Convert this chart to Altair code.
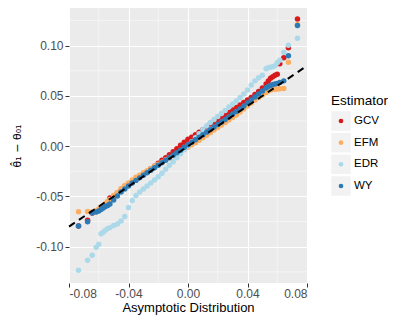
import altair as alt
import pandas as pd

# ---- data (QQ plot: asymptotic quantiles vs estimates) ----
estimators = ["GCV", "EFM", "EDR", "WY"]
colors = ["#D7191C", "#FDAE61", "#ABD9E9", "#2C7BB6"]
legend_title = ["Estimator"]

quantiles = [-0.0736, -0.0675, -0.0644, -0.0617, -0.0600, -0.0585, -0.0570, -0.0555, -0.0540, -0.0525,
             -0.0500, -0.0475, -0.0450, -0.0425, -0.0400, -0.0375, -0.0350, -0.0325, -0.0300, -0.0275,
             -0.0250, -0.0225, -0.0200, -0.0175, -0.0150, -0.0125, -0.0100, -0.0075, -0.0050, -0.0025,
             0.0000, 0.0025, 0.0050, 0.0075, 0.0100, 0.0125, 0.0150, 0.0175, 0.0200, 0.0225,
             0.0250, 0.0275, 0.0300, 0.0325, 0.0350, 0.0375, 0.0400, 0.0425, 0.0450, 0.0475,
             0.0500, 0.0525, 0.0540, 0.0555, 0.0570, 0.0585, 0.0600, 0.0617, 0.0644, 0.0675, 0.0736]

gcv = [-0.0795, -0.0736, -0.0665, -0.0650, -0.0635, -0.0620, -0.0605, -0.0590, -0.0555, -0.0515,
       -0.0500, -0.0465, -0.0440, -0.0410, -0.0380, -0.0355, -0.0330, -0.0305, -0.0280, -0.0255,
       -0.0225, -0.0200, -0.0170, -0.0140, -0.0115, -0.0085, -0.0055, -0.0025, 0.0010, 0.0040,
       0.0070, 0.0090, 0.0115, 0.0140, 0.0165, 0.0190, 0.0220, 0.0240, 0.0265, 0.0290,
       0.0310, 0.0335, 0.0360, 0.0385, 0.0410, 0.0435, 0.0460, 0.0485, 0.0515, 0.0545,
       0.0580, 0.0620, 0.0650, 0.0675, 0.0690, 0.0705, 0.0715, 0.0820, 0.0880, 0.0980, 0.1265]

efm = [-0.0653, -0.0650, -0.0655, -0.0640, -0.0625, -0.0610, -0.0590, -0.0570, -0.0550, -0.0530,
       -0.0490, -0.0460, -0.0420, -0.0390, -0.0365, -0.0335, -0.0310, -0.0290, -0.0265, -0.0245,
       -0.0225, -0.0200, -0.0180, -0.0160, -0.0135, -0.0115, -0.0095, -0.0075, -0.0055, -0.0030,
       -0.0010, 0.0015, 0.0035, 0.0060, 0.0085, 0.0110, 0.0135, 0.0160, 0.0185, 0.0210,
       0.0235, 0.0260, 0.0285, 0.0310, 0.0340, 0.0370, 0.0400, 0.0430, 0.0460, 0.0485,
       0.0510, 0.0535, 0.0550, 0.0560, 0.0565, 0.0568, 0.0570, 0.0572, 0.0575, 0.0835, 0.1210]

edr = [-0.1235, -0.1135, -0.1085, -0.1005, -0.0975, -0.0870, -0.0855, -0.0835, -0.0820, -0.0810,
       -0.0790, -0.0775, -0.0745, -0.0700, -0.0610, -0.0540, -0.0490, -0.0455, -0.0425, -0.0395,
       -0.0365, -0.0335, -0.0305, -0.0270, -0.0230, -0.0190, -0.0155, -0.0115, -0.0075, -0.0035,
       0.0005, 0.0045, 0.0085, 0.0125, 0.0165, 0.0200, 0.0235, 0.0265, 0.0295, 0.0325,
       0.0355, 0.0390, 0.0420, 0.0450, 0.0485, 0.0520, 0.0560, 0.0610, 0.0650, 0.0680,
       0.0705, 0.0770, 0.0780, 0.0785, 0.0790, 0.0800, 0.0830, 0.0855, 0.0935, 0.1005, 0.1075]

wy = [-0.0795, -0.0752, -0.0665, -0.0655, -0.0645, -0.0630, -0.0615, -0.0600, -0.0590, -0.0575,
      -0.0535, -0.0495, -0.0455, -0.0425, -0.0395, -0.0365, -0.0340, -0.0315, -0.0290, -0.0265,
      -0.0240, -0.0215, -0.0190, -0.0165, -0.0140, -0.0115, -0.0090, -0.0065, -0.0040, -0.0010,
      0.0015, 0.0040, 0.0065, 0.0090, 0.0115, 0.0140, 0.0165, 0.0190, 0.0215, 0.0240,
      0.0265, 0.0290, 0.0320, 0.0345, 0.0370, 0.0400, 0.0430, 0.0460, 0.0490, 0.0520,
      0.0550, 0.0580, 0.0595, 0.0605, 0.0615, 0.0620, 0.0625, 0.0635, 0.0650, 0.0900, 0.1200]

ref_line_x = [-0.08, 0.08]
ref_line_y = [-0.08, 0.08]

x_ticks = [-0.08, -0.04, 0.0, 0.04, 0.08]
x_minor = [-0.06, -0.02, 0.02, 0.06]
y_ticks = [-0.10, -0.05, 0.0, 0.05, 0.10]
y_minor = [-0.125, -0.075, -0.025, 0.025, 0.075, 0.125]

# ---- build tables ----
series = {"GCV": gcv, "EFM": efm, "EDR": edr, "WY": wy}
rows = []
for name in estimators:
    for q, v in zip(quantiles, series[name]):
        rows.append({"Estimator": name, "q": q, "v": v})
pts = pd.DataFrame(rows)
ref = pd.DataFrame({"x": ref_line_x, "y": ref_line_y})
xm = pd.DataFrame({"v": x_minor})
ym = pd.DataFrame({"v": y_minor})
leg = pd.DataFrame({"Estimator": estimators})
legt = pd.DataFrame({"t": legend_title})

W, H = 238, 275
FONT = "Liberation Sans"
xscale = alt.Scale(domain=[-0.08, 0.08], nice=False, zero=False)
yscale = alt.Scale(domain=[-0.1361, 0.1375], nice=False, zero=False)
cscale = alt.Scale(domain=estimators, range=colors)
lab_expr = "(datum.value < 0 ? '-' : '') + format(abs(datum.value), '.2f')"

xaxis = alt.Axis(values=x_ticks, labelExpr=lab_expr, title="Asymptotic Distribution",
                 grid=True, gridColor="white", gridWidth=1.1, domain=False,
                 tickColor="#333333", tickSize=4, tickWidth=1, labelColor="#4D4D4D",
                 labelFontSize=12, labelFont=FONT, labelPadding=1,
                 titleFont=FONT, titleFontSize=13, titleFontWeight="normal",
                 titleColor="black", titlePadding=2)
yaxis = alt.Axis(values=y_ticks, labelExpr=lab_expr,
                 title="\u03b8\u0302\u2081 \u2212 \u03b8\u2080\u2081",
                 grid=True, gridColor="white", gridWidth=1.1, domain=False,
                 tickColor="#333333", tickSize=4, tickWidth=1, labelColor="#4D4D4D",
                 labelFontSize=12, labelFont=FONT, labelPadding=2,
                 titleFont="DejaVu Sans", titleFontSize=11, titleFontWeight="normal",
                 titleColor="black", titlePadding=13)

minor_x = alt.Chart(xm).mark_rule(color="white", strokeWidth=0.5).encode(
    x=alt.X("v:Q", scale=xscale, axis=xaxis))
minor_y = alt.Chart(ym).mark_rule(color="white", strokeWidth=0.5).encode(
    y=alt.Y("v:Q", scale=yscale, axis=yaxis))

points = alt.Chart(pts).mark_circle(size=30, opacity=1).encode(
    x=alt.X("q:Q", scale=xscale, axis=xaxis),
    y=alt.Y("v:Q", scale=yscale, axis=yaxis),
    color=alt.Color("Estimator:N", scale=cscale, legend=None),
    order=alt.Order("idx:Q"),
).transform_calculate(idx="indexof(['GCV','EFM','EDR','WY'], datum.Estimator)")

refline = alt.Chart(ref).mark_line(color="black", strokeWidth=2, strokeDash=[7, 5]).encode(
    x=alt.X("x:Q", scale=xscale, axis=xaxis),
    y=alt.Y("y:Q", scale=yscale, axis=yaxis))

main = alt.layer(minor_x, minor_y, points, refline)

# ---- legend drawn as marks (ggplot style keys) ----
ly = alt.Y("Estimator:N", scale=alt.Scale(type="point", domain=estimators, range=[113, 178], padding=0),
           axis=None)
keys = alt.Chart(leg).mark_square(size=380, color="#F2F2F2", opacity=1).encode(
    x=alt.value(W + 34), y=ly)
kpts = alt.Chart(leg).mark_circle(size=22, opacity=1).encode(
    x=alt.value(W + 34), y=ly, color=alt.Color("Estimator:N", scale=cscale, legend=None))
klab = alt.Chart(leg).mark_text(align="left", baseline="middle", font=FONT, fontSize=11.5,
                                color="black").encode(
    x=alt.value(W + 47), y=ly, text="Estimator:N")
ktitle = alt.Chart(legt).mark_text(align="left", baseline="alphabetic", font=FONT, fontSize=13.5,
                                   color="black").encode(
    x=alt.value(W + 24), y=alt.value(97), text="t:N")
legend = alt.layer(keys, kpts, klab, ktitle)

chart = alt.layer(main, legend).resolve_scale(y="independent").properties(
    width=W, height=H,
    autosize=alt.AutoSizeParams(type="none"),
    padding={"left": 61, "top": 0, "right": 87, "bottom": 40},
    background="white",
).configure_view(fill="#EBEBEB", stroke=None)

chart.save("out.html", embed_options={"renderer": "svg", "actions": False})
